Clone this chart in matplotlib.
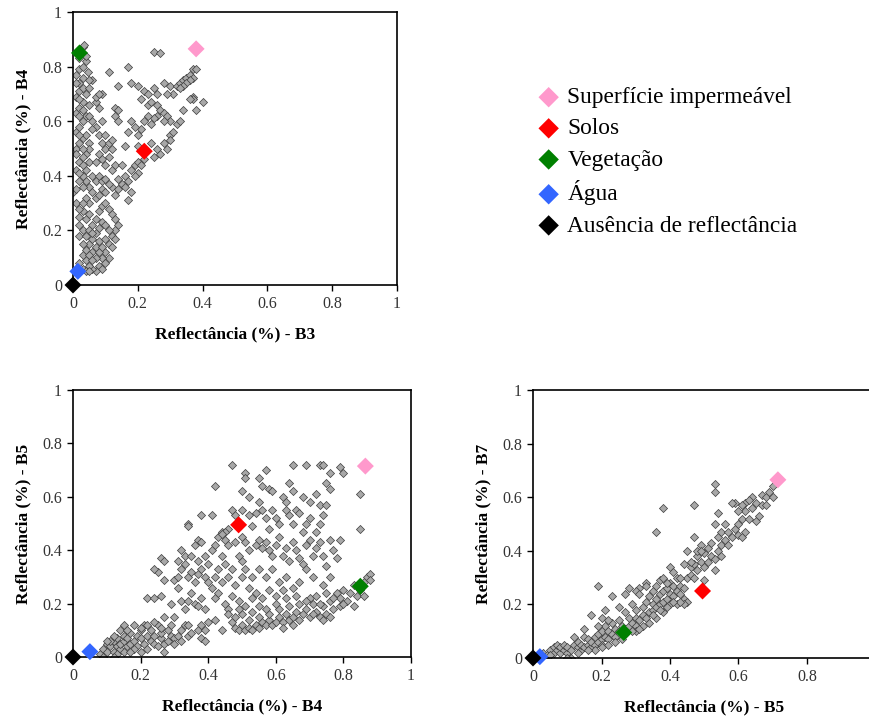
import numpy
import matplotlib
matplotlib.use('Agg')
import matplotlib.pyplot as plt

plt.rcParams['font.family']=['Liberation Serif','DejaVu Serif']

# endmember reflectances per band
classes=['Superfície impermeável','Solos','Vegetação','Água','Ausência de reflectância']
class_colors=['#FF99CC','#FF0000','#008000','#3366FF','#000000']
B3=[0.38,0.22,0.02,0.015,0.0]
B4=[0.865,0.49,0.85,0.05,0.0]
B5=[0.715,0.495,0.265,0.02,0.0]
B7=[0.665,0.25,0.095,0.005,0.0]

# pixel samples, (x,y) pairs
b3_b4=numpy.array([
(0.25,0.855),(0.27,0.85),(0.11,0.78),(0.17,0.8),(0.18,0.74),(0.14,0.73),(0.2,0.73),(0.22,0.71),(0.23,0.7),(0.25,0.72),
(0.26,0.7),(0.28,0.74),(0.3,0.73),(0.32,0.73),(0.33,0.74),(0.34,0.75),(0.35,0.76),(0.36,0.77),(0.37,0.79),(0.38,0.79),
(0.37,0.76),(0.36,0.75),(0.35,0.74),(0.34,0.73),(0.33,0.72),(0.31,0.7),(0.29,0.7),(0.37,0.69),(0.37,0.68),(0.36,0.68),
(0.4,0.67),(0.38,0.64),(0.34,0.64),(0.21,0.68),(0.23,0.66),(0.24,0.67),(0.26,0.66),(0.27,0.64),(0.28,0.63),(0.29,0.62),
(0.3,0.6),(0.28,0.6),(0.26,0.62),(0.25,0.61),(0.24,0.59),(0.23,0.62),(0.22,0.6),(0.21,0.57),(0.2,0.55),(0.19,0.58),
(0.17,0.56),(0.18,0.6),(0.16,0.51),(0.2,0.51),(0.22,0.5),(0.24,0.52),(0.25,0.47),(0.27,0.48),(0.26,0.5),(0.28,0.52),
(0.3,0.55),(0.31,0.56),(0.3,0.53),(0.29,0.5),(0.32,0.59),(0.33,0.6),(0.05,0.3),(0.07,0.32),(0.09,0.35),(0.1,0.34),
(0.12,0.36),(0.13,0.33),(0.14,0.35),(0.15,0.37),(0.16,0.4),(0.17,0.38),(0.18,0.42),(0.19,0.44),(0.2,0.45),(0.21,0.44),
(0.22,0.46),(0.2,0.41),(0.19,0.4),(0.18,0.34),(0.17,0.31),(0.16,0.36),(0.14,0.39),(0.12,0.42),(0.13,0.44),(0.15,0.44),
(0.11,0.47),(0.1,0.5),(0.12,0.5),(0.13,0.62),(0.14,0.6),(0.13,0.65),(0.09,0.52),(0.08,0.55),(0.07,0.58),(0.06,0.6),
(0.08,0.65),(0.07,0.67),(0.09,0.7),(0.06,0.75),(0.05,0.66),(0.06,0.57),(0.05,0.52),(0.04,0.48),(0.05,0.45),(0.07,0.45),
(0.08,0.48),(0.09,0.46),(0.1,0.44),(0.06,0.4),(0.07,0.38),(0.08,0.4),(0.09,0.38),(0.1,0.39),(0.11,0.37),(0.05,0.36),
(0.04,0.38),(0.06,0.34),(0.08,0.33),(0.02,0.25),(0.03,0.27),(0.04,0.24),(0.05,0.26),(0.06,0.22),(0.07,0.24),(0.08,0.27),
(0.09,0.29),(0.1,0.3),(0.11,0.28),(0.12,0.26),(0.13,0.24),(0.14,0.22),(0.13,0.2),(0.12,0.18),(0.13,0.17),(0.11,0.15),
(0.12,0.14),(0.1,0.12),(0.11,0.1),(0.09,0.1),(0.1,0.08),(0.08,0.07),(0.09,0.06),(0.07,0.05),(0.06,0.06),(0.05,0.07),
(0.04,0.09),(0.03,0.11),(0.04,0.13),(0.05,0.15),(0.06,0.17),(0.07,0.19),(0.08,0.21),(0.09,0.23),(0.1,0.22),(0.11,0.2),
(0.08,0.16),(0.07,0.14),(0.06,0.12),(0.05,0.11),(0.08,0.12),(0.09,0.14),(0.1,0.17),(0.07,0.1),(0.06,0.09),(0.03,0.06),
(0.04,0.05),(0.05,0.05),(0.02,0.08),(0.03,0.15),(0.02,0.18),(0.03,0.2),(0.04,0.18),(0.05,0.2),(0.06,0.19),(0.02,0.22),
(0.0,0.34),(0.01,0.3),(0.02,0.28),(0.03,0.3),(0.04,0.32),(0.01,0.35),(0.02,0.38),(0.03,0.4),(0.01,0.42),(0.02,0.45),
(0.03,0.47),(0.01,0.5),(0.02,0.52),(0.03,0.54),(0.01,0.56),(0.02,0.58),(0.03,0.6),(0.04,0.62),(0.01,0.63),(0.02,0.65),
(0.03,0.67),(0.01,0.69),(0.02,0.71),(0.03,0.72),(0.02,0.74),(0.03,0.76),(0.01,0.77),(0.02,0.79),(0.03,0.8),(0.04,0.82),
(0.02,0.83),(0.03,0.85),(0.03,0.87),(0.035,0.88),(0.04,0.84),(0.04,0.7),(0.04,0.55),(0.04,0.42),(0.05,0.5),(0.05,0.62),
(0.05,0.72),(0.045,0.78),(0.01,0.48),(0.02,0.41),(0.03,0.36),(0.02,0.62),(0.03,0.64),(0.01,0.74),(0.02,0.68),(0.02,0.55),
(0.03,0.5),(0.03,0.44),(0.07,0.69),(0.08,0.7),(0.09,0.6),(0.1,0.55),(0.11,0.52),(0.12,0.53),(0.05,0.75),(0.14,0.64),
])

b4_b5=numpy.array([
(0.08,0.01),(0.09,0.03),(0.1,0.02),(0.1,0.05),(0.11,0.04),(0.12,0.02),(0.12,0.06),(0.13,0.04),(0.13,0.07),(0.14,0.03),
(0.14,0.05),(0.15,0.06),(0.15,0.08),(0.15,0.12),(0.16,0.04),(0.16,0.07),(0.17,0.05),(0.17,0.09),(0.18,0.06),(0.18,0.12),
(0.19,0.04),(0.19,0.08),(0.2,0.07),(0.2,0.1),(0.21,0.05),(0.21,0.12),(0.22,0.08),(0.22,0.03),(0.23,0.06),(0.23,0.1),
(0.24,0.05),(0.24,0.08),(0.25,0.04),(0.25,0.12),(0.26,0.07),(0.26,0.09),(0.27,0.05),(0.27,0.15),(0.28,0.06),(0.28,0.1),
(0.29,0.08),(0.3,0.07),(0.3,0.05),(0.31,0.08),(0.32,0.06),(0.32,0.1),(0.33,0.12),(0.34,0.12),(0.34,0.08),(0.35,0.09),
(0.37,0.1),(0.38,0.07),(0.39,0.06),(0.11,0.06),(0.13,0.01),(0.09,0.0),(0.18,0.03),(0.2,0.02),(0.27,0.02),(0.1,0.06),
(0.12,0.08),(0.14,0.1),(0.12,0.0),(0.15,0.02),(0.17,0.02),(0.16,0.1),(0.22,0.12),(0.24,0.13),(0.26,0.11),(0.29,0.12),
(0.3,0.15),(0.2,0.11),(0.22,0.22),(0.24,0.22),(0.26,0.23),(0.27,0.29),(0.29,0.2),(0.32,0.21),(0.33,0.18),(0.34,0.21),
(0.36,0.2),(0.37,0.19),(0.39,0.18),(0.38,0.22),(0.35,0.24),(0.31,0.26),(0.25,0.32),(0.24,0.33),(0.26,0.37),(0.27,0.36),
(0.3,0.29),(0.31,0.3),(0.32,0.33),(0.33,0.35),(0.34,0.3),(0.35,0.32),(0.36,0.28),(0.37,0.31),(0.38,0.33),(0.39,0.3),
(0.4,0.28),(0.41,0.26),(0.42,0.22),(0.43,0.24),(0.4,0.35),(0.39,0.38),(0.37,0.36),(0.36,0.42),(0.37,0.44),(0.38,0.43),
(0.34,0.5),(0.34,0.49),(0.38,0.53),(0.41,0.53),(0.42,0.64),(0.33,0.38),(0.32,0.4),(0.31,0.36),(0.35,0.38),(0.41,0.4),
(0.42,0.42),(0.43,0.45),(0.44,0.47),(0.45,0.44),(0.46,0.42),(0.44,0.38),(0.45,0.35),(0.43,0.33),(0.42,0.3),(0.44,0.28),
(0.46,0.3),(0.47,0.33),(0.45,0.2),(0.46,0.18),(0.39,0.1),(0.4,0.13),(0.42,0.14),(0.44,0.1),(0.38,0.12),(0.46,0.16),
(0.47,0.13),(0.48,0.11),(0.49,0.1),(0.5,0.12),(0.51,0.1),(0.52,0.11),(0.53,0.1),(0.54,0.12),(0.55,0.11),(0.56,0.13),
(0.57,0.12),(0.58,0.14),(0.59,0.12),(0.6,0.13),(0.61,0.15),(0.62,0.13),(0.63,0.16),(0.64,0.14),(0.65,0.15),(0.66,0.17),
(0.67,0.14),(0.68,0.16),(0.69,0.18),(0.7,0.15),(0.71,0.2),(0.72,0.17),(0.73,0.15),(0.74,0.19),(0.75,0.16),(0.76,0.21),
(0.77,0.18),(0.78,0.24),(0.79,0.22),(0.8,0.25),(0.81,0.21),(0.82,0.24),(0.83,0.19),(0.84,0.23),(0.85,0.25),(0.86,0.28),
(0.87,0.3),(0.88,0.31),(0.88,0.29),(0.86,0.23),(0.83,0.27),(0.79,0.19),(0.76,0.15),(0.73,0.2),(0.7,0.22),(0.67,0.2),
(0.64,0.19),(0.61,0.18),(0.58,0.16),(0.55,0.15),(0.52,0.14),(0.5,0.16),(0.48,0.15),(0.49,0.18),(0.53,0.17),(0.57,0.18),
(0.6,0.2),(0.63,0.22),(0.66,0.23),(0.69,0.21),(0.72,0.23),(0.75,0.24),(0.77,0.22),(0.8,0.2),(0.74,0.14),(0.71,0.16),
(0.65,0.12),(0.62,0.11),(0.47,0.72),(0.51,0.69),(0.51,0.67),(0.55,0.67),(0.57,0.7),(0.65,0.72),(0.69,0.72),(0.73,0.72),
(0.74,0.72),(0.76,0.69),(0.79,0.71),(0.8,0.69),(0.85,0.61),(0.85,0.48),(0.5,0.62),(0.52,0.6),(0.56,0.64),(0.58,0.63),
(0.59,0.62),(0.62,0.6),(0.63,0.58),(0.64,0.65),(0.65,0.62),(0.66,0.55),(0.68,0.6),(0.7,0.58),(0.72,0.61),(0.73,0.57),
(0.75,0.65),(0.76,0.63),(0.75,0.57),(0.74,0.53),(0.73,0.5),(0.72,0.47),(0.7,0.52),(0.69,0.5),(0.68,0.47),(0.67,0.54),
(0.65,0.5),(0.64,0.53),(0.63,0.55),(0.61,0.5),(0.6,0.52),(0.59,0.55),(0.58,0.48),(0.57,0.52),(0.56,0.55),(0.55,0.58),
(0.54,0.54),(0.53,0.49),(0.52,0.53),(0.5,0.55),(0.48,0.53),(0.47,0.55),(0.46,0.48),(0.45,0.47),(0.44,0.46),(0.48,0.43),
(0.5,0.45),(0.51,0.43),(0.52,0.4),(0.54,0.42),(0.55,0.44),(0.56,0.41),(0.57,0.43),(0.58,0.4),(0.59,0.38),(0.6,0.42),
(0.61,0.45),(0.62,0.38),(0.63,0.41),(0.64,0.36),(0.65,0.43),(0.66,0.4),(0.67,0.37),(0.68,0.35),(0.69,0.42),(0.7,0.44),
(0.71,0.38),(0.72,0.41),(0.73,0.43),(0.74,0.38),(0.75,0.34),(0.76,0.44),(0.77,0.4),(0.78,0.37),(0.79,0.44),(0.76,0.3),
(0.74,0.27),(0.71,0.3),(0.69,0.33),(0.67,0.28),(0.65,0.26),(0.63,0.3),(0.61,0.28),(0.59,0.33),(0.57,0.3),(0.55,0.33),
(0.53,0.3),(0.51,0.33),(0.5,0.36),(0.49,0.38),(0.5,0.3),(0.52,0.26),(0.54,0.24),(0.56,0.22),(0.58,0.25),(0.6,0.23),
(0.62,0.25),(0.48,0.27),(0.47,0.23),(0.49,0.21),(0.51,0.19),(0.53,0.22),(0.55,0.19),
])

b5_b7=numpy.array([
(0.02,0.01),(0.03,0.02),(0.04,0.01),(0.05,0.03),(0.06,0.02),(0.06,0.04),(0.07,0.03),(0.07,0.05),(0.08,0.02),(0.08,0.04),
(0.09,0.03),(0.09,0.05),(0.1,0.02),(0.1,0.04),(0.11,0.03),(0.11,0.0),(0.12,0.05),(0.12,0.08),(0.13,0.04),(0.13,0.06),
(0.14,0.03),(0.14,0.05),(0.15,0.08),(0.15,0.04),(0.16,0.05),(0.16,0.07),(0.17,0.04),(0.17,0.06),(0.18,0.05),(0.18,0.08),
(0.19,0.06),(0.19,0.09),(0.2,0.07),(0.2,0.1),(0.2,0.05),(0.21,0.08),(0.21,0.12),(0.22,0.07),(0.22,0.1),(0.23,0.09),
(0.23,0.13),(0.24,0.08),(0.24,0.11),(0.25,0.1),(0.25,0.14),(0.26,0.09),(0.26,0.12),(0.27,0.11),(0.27,0.17),(0.28,0.12),
(0.28,0.15),(0.29,0.13),(0.29,0.2),(0.3,0.12),(0.3,0.15),(0.3,0.18),(0.31,0.14),(0.31,0.26),(0.32,0.16),(0.32,0.19),
(0.33,0.15),(0.33,0.21),(0.33,0.28),(0.34,0.17),(0.34,0.23),(0.35,0.18),(0.35,0.2),(0.35,0.25),(0.36,0.19),(0.36,0.22),
(0.36,0.27),(0.37,0.2),(0.37,0.24),(0.37,0.29),(0.38,0.21),(0.38,0.25),(0.38,0.3),(0.39,0.22),(0.39,0.26),(0.4,0.2),
(0.4,0.24),(0.4,0.28),(0.4,0.34),(0.41,0.23),(0.41,0.27),(0.42,0.25),(0.42,0.3),(0.43,0.24),(0.43,0.27),(0.44,0.22),
(0.44,0.26),(0.44,0.35),(0.45,0.21),(0.45,0.3),(0.46,0.31),(0.46,0.34),(0.47,0.3),(0.47,0.35),(0.47,0.45),(0.48,0.33),
(0.48,0.38),(0.48,0.4),(0.49,0.36),(0.49,0.42),(0.5,0.29),(0.5,0.34),(0.5,0.39),(0.51,0.36),(0.51,0.41),(0.52,0.38),
(0.52,0.43),(0.53,0.33),(0.53,0.37),(0.53,0.5),(0.54,0.4),(0.54,0.45),(0.54,0.54),(0.55,0.42),(0.55,0.47),(0.55,0.38),
(0.56,0.44),(0.56,0.5),(0.57,0.42),(0.57,0.47),(0.58,0.45),(0.59,0.48),(0.59,0.58),(0.6,0.5),(0.6,0.46),(0.61,0.52),
(0.61,0.45),(0.62,0.55),(0.62,0.58),(0.62,0.47),(0.63,0.52),(0.64,0.56),(0.64,0.6),(0.65,0.58),(0.65,0.51),(0.66,0.53),
(0.67,0.57),(0.67,0.61),(0.68,0.6),(0.68,0.57),(0.69,0.62),(0.7,0.64),(0.7,0.6),(0.15,0.11),(0.17,0.16),(0.19,0.27),
(0.19,0.12),(0.2,0.15),(0.21,0.18),(0.23,0.23),(0.22,0.14),(0.25,0.19),(0.27,0.24),(0.28,0.26),(0.3,0.25),(0.31,0.24),
(0.33,0.27),(0.36,0.47),(0.38,0.56),(0.47,0.57),(0.53,0.65),(0.53,0.62),(0.58,0.58),(0.6,0.55),(0.61,0.57),(0.63,0.59),
(0.46,0.36),(0.45,0.4),(0.49,0.4),(0.43,0.3),(0.41,0.32),(0.39,0.28),(0.05,0.01),(0.1,0.0),(0.13,0.02),(0.18,0.03),
(0.22,0.05),(0.26,0.07),(0.3,0.1),(0.34,0.13),(0.38,0.17),(0.42,0.2),(0.44,0.2),(0.43,0.21),(0.32,0.12),(0.36,0.15),
(0.39,0.19),(0.41,0.21),(0.35,0.16),(0.37,0.18),(0.31,0.11),(0.29,0.1),(0.27,0.09),(0.24,0.06),(0.2,0.04),(0.16,0.03),
])

panels=[
    (b3_b4,B3,B4,'B3','B4',[73,397,12,285],[0,0.2,0.4,0.6,0.8,1]),
    (b4_b5,B4,B5,'B4','B5',[73,411,390,657],[0,0.2,0.4,0.6,0.8,1]),
    (b5_b7,B5,B7,'B5','B7',[533,875.5,390,658],[0,0.2,0.4,0.6,0.8]),
]

W,H=870.,725.
fig=plt.figure(figsize=(8.7,7.25),dpi=100)
for pts,ex,ey,bx,by,(l,r,t,b),xt in panels:
    ax=fig.add_axes([l/W,(H-b)/H,(r-l)/W,(b-t)/H])
    ax.scatter(pts[:,0],pts[:,1],s=17,marker='D',c='#A8A8A8',edgecolors='#3C3C3C',linewidths=0.5,zorder=2)
    for k in range(len(classes)):
        ax.scatter(ex[k],ey[k],s=75,marker='D',c=class_colors[k],edgecolors='none',zorder=3,clip_on=False,label=classes[k])
    ax.set_xlim(0,1)
    ax.set_ylim(0,1)
    ax.set_xticks(xt)
    ax.set_xticklabels(['%g'%v for v in xt])
    ax.set_yticks([0,0.2,0.4,0.6,0.8,1])
    ax.set_yticklabels(['0','0.2','0.4','0.6','0.8','1'])
    ax.tick_params(direction='out',length=4,width=1,labelsize=11.5,labelcolor='#333333',pad=4)
    for s in ax.spines.values():
        s.set_linewidth(1.2)
    ax.set_xlabel('Reflectância (%) - '+bx,fontsize=12.5,fontweight='bold',labelpad=10)
    ax.set_ylabel('Reflectância (%) - '+by,fontsize=12.5,fontweight='bold',labelpad=8)
    if bx=='B3':
        handles,labels=ax.get_legend_handles_labels()

leg=fig.legend(handles,labels,loc='upper left',bbox_to_anchor=(537/W,1-87/H),frameon=False,
               fontsize=16.8,handlelength=1.0,handletextpad=0.3,labelspacing=0.42,markerscale=1.2,
               borderaxespad=0,borderpad=0)
plt.savefig('out.png',dpi=100)
